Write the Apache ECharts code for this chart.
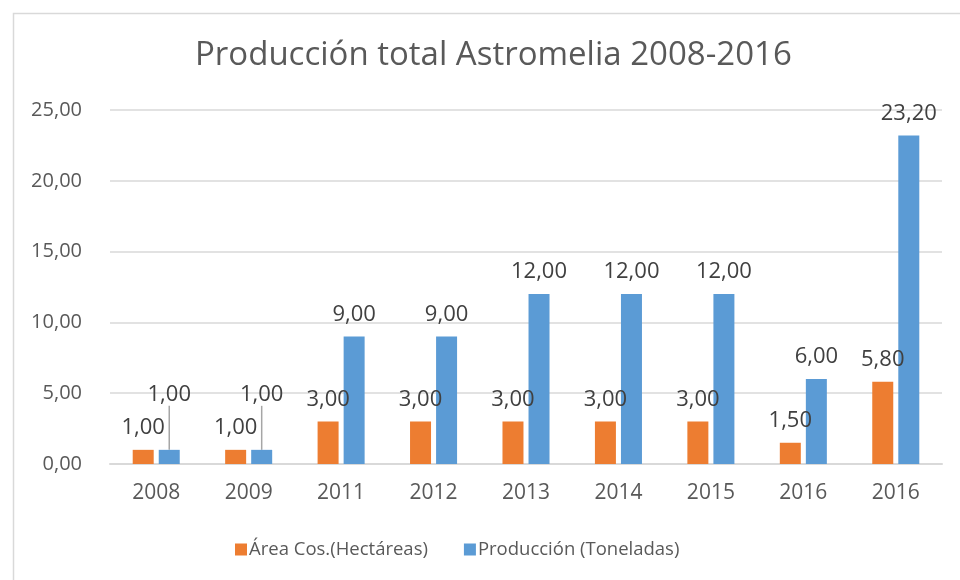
<!DOCTYPE html>
<html>
<head>
<meta charset="utf-8">
<script src="https://cdn.jsdelivr.net/npm/echarts@6/dist/echarts.min.js"></script>
<style>
  html, body { margin: 0; padding: 0; background: #fff; }
  #chart { width: 960px; height: 580px; }
</style>
</head>
<body>
<div id="chart"></div>
<script>
// datos del gráfico
const years = ['2008', '2009', '2011', '2012', '2013', '2014', '2015', '2016', '2016'];
const area = [1, 1, 3, 3, 3, 3, 3, 1.5, 5.8];
const produccion = [1, 1, 9, 9, 12, 12, 12, 6, 23.2];
const seriesNames = ['Área Cos.(Hectáreas)', 'Producción (Toneladas)'];

const FONT = '"Open Sans", "Noto Sans", sans-serif';
const fmt = (v) => Number(v).toFixed(2).replace('.', ',');

const chart = echarts.init(document.getElementById('chart'));

const labelCfg = {
  show: true,
  position: 'top',
  distance: 11,
  color: '#404040',
  fontFamily: FONT,
  fontSize: 22,
  formatter: (p) => fmt(p.value)
};

// 2008 y 2009: etiqueta desplazada con línea guía
const prodData = produccion.map((v, i) => (i < 2 ? { value: v, labelLine: { show: true } } : v));

chart.setOption({
  animation: false,
  textStyle: { fontFamily: FONT },
  title: {
    text: 'Producción total Astromelia 2008-2016',
    left: 190,
    top: 34,
    textStyle: { fontFamily: FONT, fontSize: 33, fontWeight: 'normal', color: '#595959' }
  },
  graphic: [{
    type: 'rect',
    left: 11,
    top: 11,
    silent: true,
    shape: { width: 1000, height: 1000 },
    style: { fill: 'none', stroke: '#d9d9d9', lineWidth: 1.5 }
  }],
  legend: {
    bottom: 16,
    left: 230,
    itemWidth: 12,
    itemHeight: 12,
    itemGap: 36,
    icon: 'rect',
    textStyle: { fontFamily: FONT, fontSize: 18.5, color: '#595959', padding: [0, 0, 0, -3] },
    data: seriesNames
  },
  grid: { left: 110, right: 18, top: 110, bottom: 116 },
  xAxis: {
    type: 'category',
    data: years,
    axisLine: { lineStyle: { color: '#d9d9d9', width: 2 } },
    axisTick: { show: false },
    axisLabel: { color: '#595959', fontSize: 21, margin: 19, fontFamily: FONT }
  },
  yAxis: {
    type: 'value',
    min: 0,
    max: 25,
    interval: 5,
    axisLine: { show: false },
    axisTick: { show: false },
    splitLine: { lineStyle: { color: '#d9d9d9', width: 1.5 } },
    axisLabel: { color: '#595959', fontSize: 20, margin: 28, fontFamily: FONT, formatter: fmt }
  },
  series: [
    {
      name: seriesNames[0],
      type: 'bar',
      data: area,
      barWidth: 21,
      barGap: '24%',
      itemStyle: { color: '#ED7D31' },
      label: labelCfg
    },
    {
      name: seriesNames[1],
      type: 'bar',
      data: prodData,
      barWidth: 21,
      itemStyle: { color: '#5B9BD5' },
      label: labelCfg,
      labelLine: { show: false, lineStyle: { color: '#a6a6a6', width: 1.5 } },
      labelLayout: (p) => (p.dataIndex < 2 ? { dy: -33 } : {})
    }
  ]
});
</script>
</body>
</html>
